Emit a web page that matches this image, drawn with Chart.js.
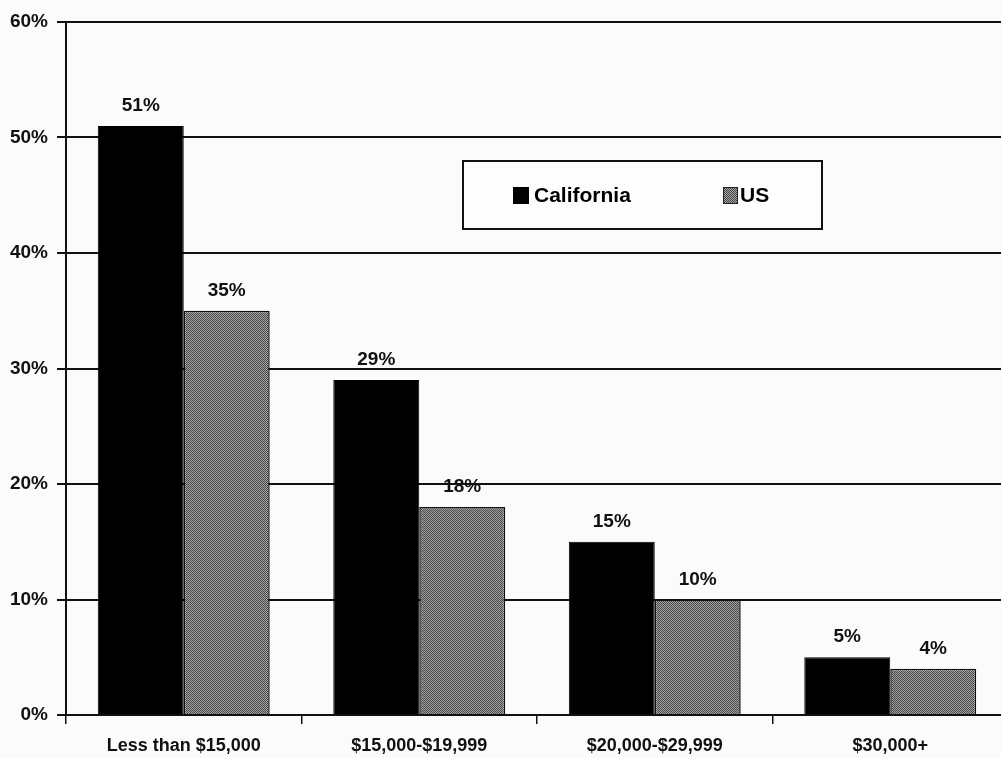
<!DOCTYPE html>
<html>
<head>
<meta charset="utf-8">
<script src="https://cdn.jsdelivr.net/npm/chart.js@4.4.1/dist/chart.umd.min.js"></script>
<style>
  html, body { margin: 0; padding: 0; background: #fbfbfb; overflow: hidden; }
  #wrap { width: 1008px; height: 758px; position: relative; }
</style>
</head>
<body>
<div id="wrap"><canvas id="income-chart"></canvas></div>
<script>
// Income brackets, share of households (%)
const CATEGORIES = ['Less than $15,000', '$15,000-$19,999', '$20,000-$29,999', '$30,000+'];
const CALIFORNIA = [51, 29, 15, 5];
const US = [35, 18, 10, 4];
const Y_TICKS = [0, 10, 20, 30, 40, 50, 60];

const FONT = "'Liberation Sans', Arial, sans-serif";

// fine checkered grey fill for the US bars
function stipple() {
  const c = document.createElement('canvas');
  c.width = 2; c.height = 2;
  const g = c.getContext('2d');
  g.fillStyle = '#a4a4a4';
  g.fillRect(0, 0, 2, 2);
  g.fillStyle = '#474747';
  g.fillRect(0, 0, 1, 1);
  g.fillRect(1, 1, 1, 1);
  return g.createPattern(c, 'repeat');
}
const usFill = stipple();

// percentage labels above every bar
const barLabels = {
  id: 'barLabels',
  afterDatasetsDraw(chart) {
    const ctx = chart.ctx;
    ctx.save();
    ctx.font = 'bold 19px ' + FONT;
    ctx.fillStyle = '#111';
    ctx.textAlign = 'center';
    ctx.textBaseline = 'alphabetic';
    chart.data.datasets.forEach((ds, i) => {
      chart.getDatasetMeta(i).data.forEach((bar, j) => {
        ctx.fillText(ds.data[j] + '%', bar.x, bar.y - 15);
      });
    });
    ctx.restore();
  }
};

// boxed legend inside the plot
const boxLegend = {
  id: 'boxLegend',
  afterDraw(chart) {
    const ctx = chart.ctx;
    const a = chart.chartArea;
    const x = a.left + 397, y = a.top + 139, w = 359, h = 68;
    ctx.save();
    ctx.fillStyle = '#fdfdfd';
    ctx.fillRect(x, y, w, h);
    ctx.lineWidth = 2;
    ctx.strokeStyle = '#111';
    ctx.strokeRect(x, y, w, h);
    ctx.font = 'bold 21px ' + FONT;
    ctx.textBaseline = 'middle';
    ctx.fillStyle = '#000';
    ctx.fillRect(x + 50, y + 26, 16, 17);
    ctx.fillText('California', x + 71, y + 35);
    ctx.fillStyle = usFill;
    ctx.fillRect(x + 260, y + 26, 15, 17);
    ctx.strokeStyle = '#222';
    ctx.lineWidth = 1;
    ctx.strokeRect(x + 260.5, y + 26.5, 14, 16);
    ctx.fillStyle = '#000';
    ctx.fillText('US', x + 277, y + 35);
    ctx.restore();
  }
};

new Chart(document.getElementById('income-chart'), {
  type: 'bar',
  data: {
    labels: CATEGORIES,
    datasets: [
      { label: 'California', data: CALIFORNIA, backgroundColor: '#000', borderColor: '#000', borderWidth: 1 },
      { label: 'US', data: US, backgroundColor: usFill, borderColor: '#111', borderWidth: 1.5 },
    ]
  },
  options: {
    responsive: true, maintainAspectRatio: false, animation: false,
    layout: { padding: { top: 22, left: 0, right: 0, bottom: 0 } },
    datasets: { bar: { categoryPercentage: 0.73, barPercentage: 1.0 } },
    plugins: { legend: { display: false }, tooltip: { enabled: false } },
    scales: {
      x: {
        grid: { drawOnChartArea: false, drawTicks: true, tickLength: 9, color: '#111', lineWidth: 1.5, offset: true },
        border: { display: true, color: '#111', width: 2 },
        ticks: { font: { family: FONT, size: 18, weight: 'bold' }, color: '#111', padding: 11, maxRotation: 0 },
        afterFit: s => { s.height = 43; }
      },
      y: {
        min: 0, max: 60,
        afterBuildTicks: s => { s.ticks = Y_TICKS.map(v => ({ value: v })); },
        grid: { color: '#111', lineWidth: 2, tickLength: 9 },
        border: { display: true, color: '#111', width: 2 },
        ticks: { font: { family: FONT, size: 19, weight: 'bold' }, color: '#111', padding: 9, callback: v => v + '%' },
        afterFit: s => { s.width = 66; }
      }
    }
  },
  plugins: [barLabels, boxLegend]
});
</script>
</body>
</html>
